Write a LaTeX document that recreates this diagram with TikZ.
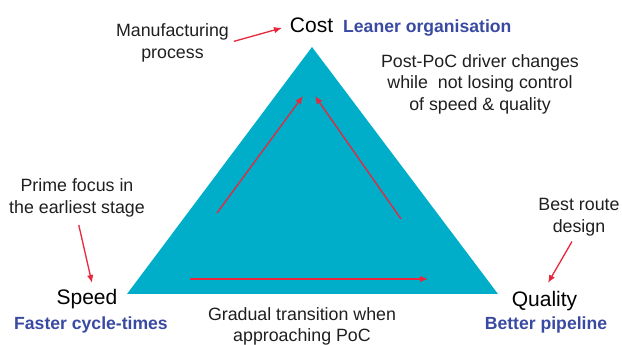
\documentclass[tikz,border=0pt]{standalone}
\usepackage{fontspec}
\setmainfont{Liberation Sans}
\usetikzlibrary{arrows.meta}

\definecolor{triteal}{RGB}{0,174,201}
\definecolor{arrowred}{RGB}{232,38,60}
\definecolor{goalblue}{RGB}{58,74,162}

\begin{document}
\begin{tikzpicture}[x=1pt,y=1pt,
	note/.style={align=center, inner sep=0pt, text=black!88,
		font=\fontsize{17.8}{21.5}\selectfont},
	corner/.style={inner sep=0pt, text=black,
		font=\fontsize{21}{25}\selectfont},
	goal/.style={inner sep=0pt, text=goalblue,
		font=\fontsize{17.6}{21}\selectfont\bfseries},
	redarrow/.style={-{Latex[length=8pt,width=6.5pt]}, draw=arrowred, line width=1.3pt}]
	\useasboundingbox (0,0) rectangle (622,345);

	% the triangle
	\coordinate (top) at (312,298);
	\coordinate (left) at (127,51);
	\coordinate (right) at (498,51);
	\fill[triteal] (top) -- (left) -- (right) -- cycle;

	% arrows inside it
	\coordinate (l1) at (217,132);
	\coordinate (l2) at (303,249);
	\coordinate (r1) at (401,126);
	\coordinate (r2) at (315,249);
	\coordinate (b1) at (190,66);
	\coordinate (b2) at (428,66);
	\draw[redarrow] (l1) -- (l2);
	\draw[redarrow] (r1) -- (r2);
	\draw[redarrow] (b1) -- (b2);

	% corners
	\node[corner, anchor=base] (cost) at (311.5,312) {Cost};
	\node[corner, anchor=base] (speed) at (87,40) {Speed};
	\node[corner, anchor=base] (quality) at (544.5,38) {Quality};

	\node[goal, anchor=base west] (lean) at (343,312) {Leaner organisation};
	\node[goal, anchor=base] (faster) at (91,15) {Faster cycle-times};
	\node[goal, anchor=base] (better) at (546,15) {Better pipeline};

	% notes
	\node[note] (manuf) at (172.5,302.3) {Manufacturing\\process};
	\node[note] (postpoc) at (480,261) {Post-PoC driver changes\\while\ \ not losing control\\of speed \& quality};
	\node[note] (prime) at (77,147) {Prime focus in\\the earliest stage};
	\node[note] (gradual) at (302,18.7) {Gradual transition when\\approaching PoC};
	\node[note] (best) at (579,127.6) {Best route\\design};

	\coordinate (primetip) at (92,62);
	\coordinate (besttip) at (548,62);
	\draw[redarrow, shorten <=5pt, shorten >=8pt] (manuf.east) -- (cost.west);
	\draw[redarrow, shorten <=8pt] (prime.south) -- (primetip);
	\draw[redarrow, shorten <=6pt] ([xshift=-4pt]best.south) -- (besttip);
\end{tikzpicture}
\end{document}
